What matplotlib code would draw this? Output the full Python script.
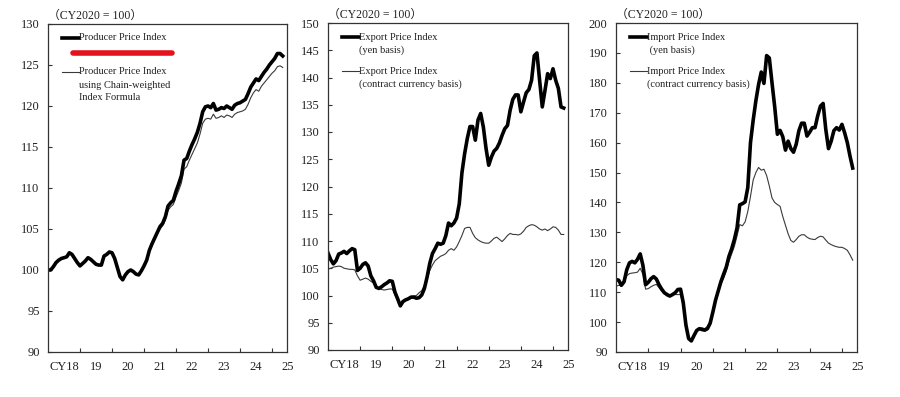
import matplotlib
matplotlib.use("Agg")
from matplotlib import pyplot as plt
from matplotlib.lines import Line2D
import matplotlib.transforms as mtrans
import numpy as np

plt.rcParams['font.family'] = ['Liberation Serif', 'Noto Sans CJK JP', 'DejaVu Sans']

# months since Jan 2018 (0 .. 88 = May 2025)
months = np.arange(89)
year_labels = ['CY18', '19', '20', '21', '22', '23', '24', '25']

# Producer Price Index
ppi = [100.0, 100.0, 100.4, 100.9, 101.2, 101.4, 101.5, 101.6, 102.1, 101.9, 101.4, 100.9,
       100.5, 100.8, 101.1, 101.5, 101.3, 101.0, 100.7, 100.6, 100.6, 101.7, 101.9, 102.2,
       102.1, 101.4, 100.3, 99.2, 98.8, 99.4, 99.8, 100.0, 99.8, 99.5, 99.4, 99.9,
       100.5, 101.2, 102.4, 103.2, 103.9, 104.6, 105.3, 105.7, 106.5, 107.8, 108.2, 108.5,
       109.6, 110.5, 111.5, 113.4, 113.6, 114.5, 115.3, 116.0, 116.8, 117.9, 119.3, 119.9,
       120.0, 119.8, 120.3, 119.5, 119.6, 119.8, 119.7, 120.0, 119.8, 119.6, 120.1, 120.3,
       120.4, 120.6, 120.8, 121.5, 122.3, 122.8, 123.3, 123.1, 123.6, 124.1, 124.5, 125.0,
       125.4, 125.8, 126.4, 126.4, 126.1]
# Producer Price Index using Chain-weighted Index Formula
ppi_chain = [100.0, 100.0, 100.4, 100.9, 101.2, 101.4, 101.5, 101.6, 102.0, 101.8, 101.3, 100.9,
             100.5, 100.8, 101.1, 101.4, 101.2, 100.9, 100.7, 100.6, 100.6, 101.6, 101.8, 102.1,
             102.0, 101.3, 100.2, 99.2, 98.8, 99.4, 99.8, 100.0, 99.8, 99.5, 99.4, 99.9,
             100.5, 101.1, 102.3, 103.0, 103.7, 104.4, 105.0, 105.4, 106.1, 107.3, 107.7, 108.0,
             108.9, 109.7, 110.6, 112.3, 112.6, 113.4, 114.1, 114.8, 115.5, 116.6, 117.9, 118.4,
             118.5, 118.4, 119.0, 118.5, 118.6, 118.8, 118.6, 118.9, 118.8, 118.6, 119.0, 119.2,
             119.3, 119.4, 119.6, 120.2, 121.0, 121.6, 122.0, 121.8, 122.4, 122.8, 123.2, 123.6,
             124.0, 124.3, 124.8, 124.9, 124.7]

# Export Price Index
exp_yen = [107.8, 106.6, 105.8, 106.4, 107.6, 107.8, 108.1, 107.7, 108.2, 108.6, 108.4, 104.6,
           105.0, 105.7, 106.0, 105.4, 103.6, 102.7, 101.5, 101.3, 101.6, 102.0, 102.3, 102.7,
           102.6, 100.6, 99.4, 98.1, 98.9, 99.2, 99.4, 99.7, 99.7, 99.5, 99.6, 100.1,
           101.3, 103.4, 105.9, 107.7, 108.6, 109.6, 109.4, 109.6, 111.0, 113.3, 112.8, 113.3,
           114.2, 116.8, 122.5, 126.0, 128.8, 131.0, 131.0, 128.5, 132.2, 133.4, 130.9, 127.0,
           123.9, 125.4, 126.5, 127.0, 128.0, 129.4, 130.6, 131.2, 134.0, 136.0, 136.8, 136.8,
           133.7, 135.5, 137.2, 137.8, 139.5, 144.0, 144.5, 139.5, 134.6, 137.6, 140.7, 139.8,
           141.6, 139.5, 138.0, 134.6, 134.4]
exp_contract = [104.8, 105.0, 105.2, 105.3, 105.4, 105.3, 105.0, 104.9, 104.8, 104.8, 104.7, 103.6,
                102.8, 103.0, 103.2, 103.0, 102.6, 102.3, 101.6, 101.3, 101.1, 101.0, 101.1, 101.2,
                101.2, 100.1, 99.0, 98.2, 98.7, 99.1, 99.4, 99.8, 99.9, 100.0, 100.5, 100.9,
                101.9, 103.0, 104.6, 105.6, 106.4, 106.8, 107.2, 107.4, 107.7, 108.3, 108.6, 108.3,
                108.9, 109.9, 111.0, 112.3, 112.5, 112.5, 111.4, 110.6, 110.2, 109.9, 109.7, 109.6,
                109.6, 110.0, 110.5, 110.7, 110.3, 109.9, 110.4, 111.0, 111.4, 111.2, 111.2, 111.1,
                111.3, 111.8, 112.5, 112.8, 113.0, 112.9, 112.6, 112.2, 112.0, 112.2, 111.9, 112.2,
                112.6, 112.5, 112.0, 111.2, 111.2]

# Import Price Index
imp_yen = [114.2, 114.0, 112.3, 113.5, 117.5, 119.8, 120.3, 119.8, 121.0, 122.8, 119.0, 112.5,
           113.3, 114.5, 115.2, 114.4, 112.5, 111.0, 109.8, 109.2, 108.7, 109.2, 109.8, 110.9,
           111.0, 106.5, 99.0, 94.5, 93.7, 95.5, 97.2, 97.8, 97.5, 97.3, 97.8, 99.6,
           103.3, 107.3, 110.4, 113.5, 116.0, 118.4, 122.0, 124.5, 127.6, 131.5, 139.2, 139.6,
           140.2, 145.0, 160.0, 167.5, 174.0, 179.4, 183.6, 179.8, 189.1, 188.3, 180.0, 172.0,
           162.8, 164.1, 162.0, 157.5, 160.5, 158.0, 156.8, 159.5, 164.0, 166.5, 166.5, 162.2,
           163.5, 165.0, 165.0, 169.0, 172.2, 173.1, 164.4, 158.0, 160.5, 164.0, 165.0, 164.2,
           166.1, 163.3, 160.0, 155.5, 151.5]
imp_contract = [112.0, 112.3, 112.2, 113.6, 115.5, 116.2, 116.4, 116.5, 116.7, 118.0, 116.0, 111.0,
                111.2, 111.8, 112.3, 112.6, 111.5, 110.3, 109.5, 108.7, 108.8, 109.2, 109.2, 109.2,
                109.2, 105.3, 98.8, 94.3, 93.8, 95.6, 97.3, 98.0, 98.1, 97.8, 98.5, 100.3,
                103.5, 107.0, 109.8, 112.6, 114.6, 117.0, 120.3, 122.8, 125.3, 128.8, 132.6, 132.2,
                133.5, 137.0, 142.0, 147.5, 150.0, 151.7, 150.8, 151.1, 149.0, 145.5, 141.5, 140.0,
                139.3, 138.7, 135.3, 132.4, 129.5, 127.3, 126.7, 127.6, 128.7, 129.2, 129.2, 128.4,
                127.9, 127.7, 127.6, 128.3, 128.7, 128.5, 127.4, 126.4, 125.9, 125.5, 125.2, 125.0,
                125.0, 124.6, 124.0, 122.5, 120.7]

W, H = 900, 397


def fx(px):
    return px / W


def fy(py):
    return 1 - py / H


fig = plt.figure(figsize=(9, 3.97), dpi=100)

panels = [
    # (left, top, right, bottom) in pixels, ylim, ystep, thick, thin, legend texts
    ((48, 24, 287, 352), (90, 130), 5, ppi, ppi_chain,
     ['Producer Price Index'], ['Producer Price Index', 'using Chain-weighted', 'Index Formula']),
    ((328, 23, 568, 350), (90, 150), 5, exp_yen, exp_contract,
     ['Export Price Index', '(yen basis)'], ['Export Price Index', '(contract currency basis)']),
    ((616, 23, 857, 352), (90, 200), 10, imp_yen, imp_contract,
     ['Import Price Index', ' (yen basis)'], ['Import Price Index', '(contract currency basis)']),
]

for (l, t, r, b), ylim, ystep, thick, thin, leg1, leg2 in panels:
    ax = fig.add_axes([fx(l), fy(b), (r - l) / W, (b - t) / H])
    ax.plot(months, thin, color='#3a3a3a', lw=0.8)
    ax.plot(months, thick, color='black', lw=2.6, solid_joinstyle='round')
    ax.set_xlim(0, 89.6)
    ax.set_ylim(*ylim)
    ax.set_yticks(np.arange(ylim[0], ylim[1] + 1, ystep))
    ax.set_xticks(np.arange(12, 89, 12))
    ax.set_xticklabels([])
    ax.tick_params(direction='in', length=3, width=0.8, color='#333333',
                   labelsize=9, labelcolor='#222222', pad=6)
    for s in ax.spines.values():
        s.set_color('#333333')
        s.set_linewidth(0.9)
    trans = mtrans.blended_transform_factory(ax.transData, ax.transAxes)
    for i, lab in enumerate(year_labels):
        ax.text(6 + 12 * i, -0.045, lab, transform=trans, ha='center', va='center',
                fontsize=9, color='#222222', clip_on=False)
    ax.text(0.0, 1.008, '（CY2020 = 100）', transform=ax.transAxes, ha='left', va='bottom',
            fontsize=8.5, color='#222222')

    # hand-drawn legend
    lx = l + 14
    fig.add_artist(Line2D([fx(lx), fx(lx + 17)], [fy(t + 14), fy(t + 14)],
                          color='black', lw=2.6, transform=fig.transFigure))
    for j, s in enumerate(leg1):
        fig.text(fx(lx + 17), fy(t + 14 + 13 * j), s, ha='left', va='center',
                 fontsize=7.5, color='#222222')
    ty = t + 48
    fig.add_artist(Line2D([fx(lx), fx(lx + 17)], [fy(ty), fy(ty)],
                          color='#3a3a3a', lw=0.8, transform=fig.transFigure))
    for j, s in enumerate(leg2):
        fig.text(fx(lx + 17), fy(ty + 13 * j), s, ha='left', va='center',
                 fontsize=7.5, color='#222222')

# red highlight under the first legend entry
fig.add_artist(Line2D([fx(73), fx(172)], [fy(53), fy(53)], color='#e3121b', lw=4,
                      solid_capstyle='round', transform=fig.transFigure))

fig.savefig('out.png', dpi=100)
